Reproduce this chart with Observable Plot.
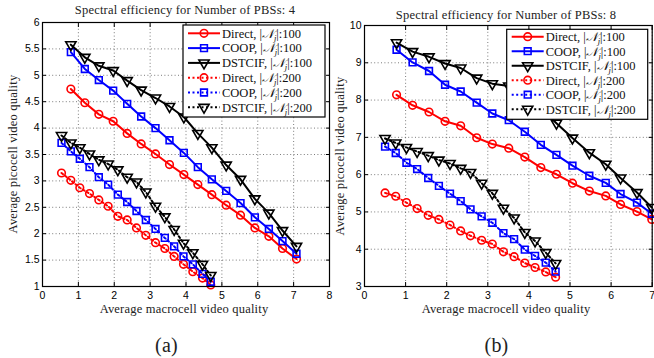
<!DOCTYPE html>
<html><head><meta charset="utf-8">
<script src="https://cdn.jsdelivr.net/npm/d3@7"></script>
<script src="https://cdn.jsdelivr.net/npm/@observablehq/plot@0.6"></script>
<style>
body{margin:0;background:#fff;}
#wrap{position:relative;width:654px;height:358px;overflow:hidden;background:#fff;font-family:"Liberation Serif",serif;}
.abs{position:absolute;white-space:nowrap;color:#222;line-height:1;letter-spacing:0.2px;}
.svgbox{position:absolute;top:0;}
</style></head><body><div id="wrap"></div>
<script>
// ---------- data ----------
const seriesNames = ["Direct", "COOP", "DSTCIF"];
const userCounts = ["100", "200"];
const titleA = "Spectral efficiency for Number of PBSs: 4";
const titleB = "Spectral efficiency for Number of PBSs: 8";
const xLabel = "Average macrocell video quality";
const yLabel = "Average picocell video quality";

// chart (a): 4 PBSs
const xA100 = [0.79,1.18,1.57,1.97,2.36,2.75,3.15,3.54,3.94,4.33,4.72,5.12,5.52,5.92,6.31,6.69,7.08];
const directA100 = [4.74,4.48,4.26,4.13,3.90,3.70,3.51,3.31,3.12,2.93,2.74,2.54,2.35,2.11,1.95,1.72,1.52];
const coopA100   = [5.44,5.12,4.91,4.71,4.46,4.22,4.00,3.77,3.53,3.26,3.03,2.81,2.58,2.31,2.09,1.86,1.62];
const dstcifA100 = [5.58,5.34,5.18,5.09,4.90,4.72,4.57,4.41,4.21,3.90,3.63,3.30,3.03,2.66,2.39,2.06,1.76];
const xA200 = [0.53,0.79,1.04,1.31,1.57,1.83,2.10,2.36,2.62,2.88,3.15,3.41,3.67,3.93,4.19,4.46,4.69];
const directA200 = [3.15,3.01,2.87,2.76,2.64,2.52,2.33,2.26,2.11,1.97,1.83,1.72,1.57,1.42,1.28,1.16,1.03];
const coopA200   = [3.72,3.56,3.42,3.26,3.07,2.93,2.74,2.60,2.43,2.26,2.09,1.92,1.76,1.57,1.42,1.24,1.09];
const dstcifA200 = [3.86,3.72,3.63,3.51,3.40,3.32,3.21,3.07,2.98,2.79,2.52,2.32,2.08,1.82,1.64,1.42,1.21];
const xTicksA = [0,1,2,3,4,5,6,7,8];
const yTicksA = [1,1.5,2,2.5,3,3.5,4,4.5,5,5.5,6];

// chart (b): 8 PBSs
const xB100 = [0.78,1.17,1.57,1.96,2.34,2.73,3.11,3.51,3.90,4.29,4.67,5.06,5.47,5.87,6.23,6.63,6.99];
const directB100 = [8.14,7.86,7.68,7.43,7.31,6.99,6.82,6.71,6.47,6.19,6.01,5.77,5.56,5.43,5.20,5.01,4.80];
const coopB100   = [9.35,9.01,8.78,8.41,8.23,7.93,7.64,7.46,7.15,6.80,6.53,6.24,5.97,5.78,5.48,5.25,4.95];
const dstcifB100 = [9.54,9.30,9.16,8.98,8.86,8.59,8.44,8.38,8.12,7.78,7.38,6.98,6.59,6.28,5.91,5.52,5.12];
const xB200 = [0.50,0.76,1.02,1.28,1.55,1.81,2.08,2.34,2.58,2.85,3.11,3.38,3.64,3.90,4.15,4.41,4.65];
const directB200 = [5.51,5.42,5.25,5.09,4.91,4.80,4.65,4.49,4.36,4.24,4.14,3.93,3.80,3.63,3.51,3.39,3.25];
const coopB200   = [6.75,6.58,6.32,6.15,5.91,5.70,5.49,5.29,5.07,4.88,4.71,4.43,4.27,3.99,3.82,3.64,3.40];
const dstcifB200 = [6.97,6.85,6.73,6.62,6.51,6.39,6.30,6.17,6.06,5.77,5.50,5.10,4.84,4.45,4.22,3.91,3.62];
const xTicksB = [0,1,2,3,4,5,6,7];
const yTicksB = [3,4,5,6,7,8,9,10];

// ---------- styling ----------
const colors = {Direct: "#ff0000", COOP: "#0000ff", DSTCIF: "#000000"};
const triDown = {draw(ctx, size) {
  const y = Math.sqrt(size / (Math.sqrt(3) * 3));
  ctx.moveTo(0, 2 * y); ctx.lineTo(-Math.sqrt(3) * y, -y); ctx.lineTo(Math.sqrt(3) * y, -y); ctx.closePath();
}};
const symbols = {Direct: d3.symbolCircle, COOP: d3.symbolSquare, DSTCIF: triDown};
const R = 3.8;

function buildSeries(xs100, ys100, xs200, ys200) {
  const out = [];
  seriesNames.forEach((name, i) => out.push({name, count: userCounts[0], xs: xs100, ys: ys100[i]}));
  seriesNames.forEach((name, i) => out.push({name, count: userCounts[1], xs: xs200, ys: ys200[i]}));
  return out;
}

function chart(cfg) {
  const grid = {stroke: "#444", strokeOpacity: 1, strokeWidth: 0.7, strokeDasharray: "1,2.4"};
  const marks = [
    Plot.gridX(cfg.xTicks, grid),
    Plot.gridY(cfg.yTicks, grid)
  ];
  cfg.series.forEach(s => {
    const rows = s.xs.map((x, i) => ({x, y: s.ys[i]}));
    marks.push(Plot.line(rows, {x: "x", y: "y", stroke: colors[s.name], strokeWidth: 2,
      strokeDasharray: s.count === "200" ? "2,2.5" : null}));
    marks.push(Plot.dot(rows, {x: "x", y: "y", symbol: symbols[s.name], r: R, stroke: colors[s.name],
      strokeWidth: 1.6, fill: "none"}));
  });
  const fmt = d => String(d);
  marks.push(
    Plot.frame({stroke: "#000", strokeWidth: 1.2}),
    Plot.axisX(cfg.xTicks, {anchor: "bottom", tickSize: 0, tickPadding: 5, tickFormat: fmt, label: null}),
    Plot.axisY(cfg.yTicks, {anchor: "left", tickSize: 0, tickPadding: 3, tickFormat: fmt, label: null}),
    Plot.axisX(cfg.xTicks, {anchor: "bottom", tickSize: -4, tickFormat: () => "", label: null}),
    Plot.axisX(cfg.xTicks, {anchor: "top", tickSize: -4, tickFormat: () => "", label: null}),
    Plot.axisY(cfg.yTicks, {anchor: "left", tickSize: -4, tickFormat: () => "", label: null}),
    Plot.axisY(cfg.yTicks, {anchor: "right", tickSize: -4, tickFormat: () => "", label: null})
  );
  const svg = Plot.plot({
    width: cfg.width, height: 300,
    marginLeft: cfg.ml, marginRight: cfg.mr, marginTop: cfg.mt, marginBottom: 14,
    x: {domain: cfg.xDomain},
    y: {domain: cfg.yDomain},
    style: {fontFamily: "Liberation Sans, Arial, sans-serif", fontSize: "10.5px", color: "#000", background: "transparent", overflow: "visible"},
    marks
  });
  // legend
  const L = cfg.legend;
  const g = d3.select(svg).append("g");
  g.append("rect").attr("x", L.x).attr("y", L.y).attr("width", L.w).attr("height", L.h)
    .attr("fill", "#fff").attr("stroke", "#000").attr("stroke-width", 1.2);
  cfg.series.forEach((s, i) => {
    const cy = L.y + L.first + i * L.step;
    g.append("line").attr("x1", L.x + 5).attr("x2", L.x + 37).attr("y1", cy).attr("y2", cy)
      .attr("stroke", colors[s.name]).attr("stroke-width", 2)
      .attr("stroke-dasharray", s.count === "200" ? "2,2.5" : null);
    g.append("path").attr("d", d3.symbol(symbols[s.name], Math.PI * R * R)())
      .attr("transform", `translate(${L.x + 21},${cy})`)
      .attr("fill", "none").attr("stroke", colors[s.name]).attr("stroke-width", 1.6);
    const t = g.append("text").attr("x", L.x + 39).attr("y", cy).attr("dy", "0.35em")
      .attr("text-anchor", "start")
      .style("font-family", "'Liberation Serif', serif").style("font-size", "12.5px").attr("fill", "#111");
    t.append("tspan").text(s.name + ", |");
    t.append("tspan").attr("font-style", "italic").text("𝒩");
    t.append("tspan").attr("dy", 3).style("font-size", "8.5px").attr("font-style", "italic").text("j");
    t.append("tspan").attr("dy", -3).text("|:" + s.count);
  });
  return svg;
}

const wrap = document.getElementById("wrap");

const svgA = chart({
  width: 333, ml: 42, mr: 4, mt: 22,
  xDomain: [0, 8], yDomain: [1, 6], xTicks: xTicksA, yTicks: yTicksA,
  series: buildSeries(xA100, [directA100, coopA100, dstcifA100], xA200, [directA200, coopA200, dstcifA200]),
  legend: {x: 183, y: 25, w: 142, h: 92, first: 8.3, step: 14.8}
});
svgA.classList.add("svgbox"); svgA.style.left = "0px"; svgA.style.position = "absolute";
wrap.appendChild(svgA);

const svgB = chart({
  width: 321, ml: 31, mr: 2.3, mt: 25,
  xDomain: [0, 7], yDomain: [3, 10], xTicks: xTicksB, yTicks: yTicksB,
  series: buildSeries(xB100, [directB100, coopB100, dstcifB100], xB200, [directB200, coopB200, dstcifB200]),
  legend: {x: 173.7, y: 29.3, w: 141, h: 90, first: 7.4, step: 14.5}
});
svgB.classList.add("svgbox"); svgB.style.left = "333px"; svgB.style.position = "absolute";
wrap.appendChild(svgB);

function addText(txt, cx, cy, size, rotate) {
  const d = document.createElement("div");
  d.className = "abs";
  d.textContent = txt;
  d.style.fontSize = size + "px";
  d.style.left = cx + "px";
  d.style.top = cy + "px";
  d.style.transform = `translate(-50%,-50%)` + (rotate ? " rotate(-90deg)" : "");
  wrap.appendChild(d);
}
addText(titleA, 185, 10, 12.5);
addText(titleB, 506, 15, 12.5);
addText(xLabel, 184, 308.5, 12.5);
addText(xLabel, 506, 308.5, 12.5);
addText(yLabel, 13, 154, 12.5, true);
addText(yLabel, 340, 156, 12.5, true);
addText("(a)", 166.5, 345, 20);
addText("(b)", 496.5, 345, 20);
</script></body></html>
